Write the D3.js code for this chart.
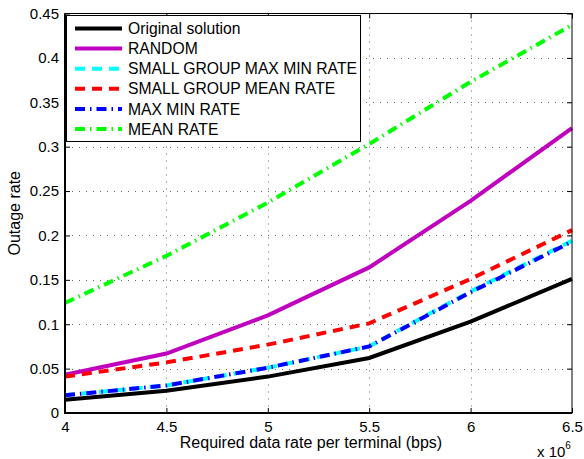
<!DOCTYPE html>
<html>
<head>
<meta charset="utf-8">
<script src="https://cdn.jsdelivr.net/npm/d3@7"></script>
<style>
body { margin: 0; background: #fff; }
text { font-family: "Liberation Sans", Arial, Helvetica, sans-serif; fill: #000; }
</style>
</head>
<body>
<div id="chart"></div>
<script>
// data rate in units of 1e6 bps
var rates = [4, 4.5, 5, 5.5, 6, 6.5];
var xTicks = [4, 4.5, 5, 5.5, 6, 6.5];
var yTicks = [0, 0.05, 0.1, 0.15, 0.2, 0.25, 0.3, 0.35, 0.4, 0.45];

var original = [0.015, 0.025, 0.041, 0.062, 0.103, 0.151];
var random = [0.043, 0.067, 0.110, 0.164, 0.239, 0.321];
var smallMaxMin = [0.020, 0.031, 0.051, 0.075, 0.137, 0.194];
var smallMean = [0.041, 0.057, 0.077, 0.101, 0.151, 0.206];
var maxMin = [0.020, 0.031, 0.051, 0.075, 0.136, 0.193];
var meanRate = [0.124, 0.177, 0.237, 0.303, 0.373, 0.437];

var names = ["Original solution", "RANDOM", "SMALL GROUP MAX MIN RATE",
	"SMALL GROUP MEAN RATE", "MAX MIN RATE", "MEAN RATE"];

var series = [
	{ name: names[0], values: original, color: "#000000", dash: null },
	{ name: names[1], values: random, color: "#bf00bf", dash: null },
	{ name: names[2], values: smallMaxMin, color: "#00ffff", dash: "10,7" },
	{ name: names[3], values: smallMean, color: "#ff0000", dash: "10,7" },
	{ name: names[4], values: maxMin, color: "#0000ff", dash: "10,5,1.5,5" },
	{ name: names[5], values: meanRate, color: "#00ff00", dash: "10,5,1.5,5" }
];

var width = 584, height = 459,
	plotL = 65, plotR = 572, plotT = 13.5, plotB = 413;

var svg = d3.select("#chart").append("svg")
	.attr("width", width)
	.attr("height", height);

var x = d3.scaleLinear().domain([4, 6.5]).range([plotL, plotR]);
var y = d3.scaleLinear().domain([0, 0.45]).range([plotB, plotT]);

// grid, dotted like matlab
var grid = svg.append("g").attr("stroke", "#666").attr("stroke-width", 1)
	.attr("stroke-dasharray", "1,6");
grid.selectAll(".gx").data(xTicks.slice(1, -1)).enter().append("line")
	.attr("x1", function(d){ return Math.round(x(d)) + 0.5; })
	.attr("x2", function(d){ return Math.round(x(d)) + 0.5; })
	.attr("y1", plotT).attr("y2", plotB);
grid.selectAll(".gy").data(yTicks.slice(1, -1)).enter().append("line")
	.attr("y1", function(d){ return Math.round(y(d)) + 0.5; })
	.attr("y2", function(d){ return Math.round(y(d)) + 0.5; })
	.attr("x1", plotL).attr("x2", plotR);

// axes with inward ticks
var xAxis = d3.axisBottom(x).tickValues(xTicks).tickSizeInner(-5).tickSizeOuter(0)
	.tickFormat(d3.format("~g")).tickPadding(8);
var yAxis = d3.axisLeft(y).tickValues(yTicks).tickSizeInner(-5).tickSizeOuter(0)
	.tickFormat(d3.format("~g")).tickPadding(6);

var gx = svg.append("g").attr("transform", "translate(0," + plotB + ")").call(xAxis);
var gy = svg.append("g").attr("transform", "translate(" + plotL + ",0)").call(yAxis);
var gxTop = svg.append("g").attr("transform", "translate(0," + plotT + ")")
	.call(d3.axisTop(x).tickValues(xTicks).tickSizeInner(-5).tickSizeOuter(0).tickFormat(""));
var gyRight = svg.append("g").attr("transform", "translate(" + plotR + ",0)")
	.call(d3.axisRight(y).tickValues(yTicks).tickSizeInner(-5).tickSizeOuter(0).tickFormat(""));

[gx, gy, gxTop, gyRight].forEach(function(g){
	g.select(".domain").remove();
	g.selectAll("line").attr("stroke", "#000");
	g.selectAll("text").style("font-size", "15px").style("font-family", "Liberation Sans, Arial, sans-serif").attr("fill", "#000");
});

// lines
var line = d3.line()
	.x(function(d, i){ return x(rates[i]); })
	.y(function(d){ return y(d); });

svg.append("g").selectAll("path").data(series).enter().append("path")
	.attr("d", function(s){ return line(s.values); })
	.attr("fill", "none")
	.attr("stroke", function(s){ return s.color; })
	.attr("stroke-width", 4)
	.attr("stroke-dasharray", function(s){ return s.dash; });

// box
svg.append("rect")
	.attr("x", plotL).attr("y", plotT)
	.attr("width", plotR - plotL).attr("height", plotB - plotT)
	.attr("fill", "none").attr("stroke", "#000").attr("stroke-width", 1);
svg.append("path")
	.attr("d", "M" + plotL + "," + plotT + "V" + plotB + "H" + plotR)
	.attr("fill", "none").attr("stroke", "#000").attr("stroke-width", 2);

// legend
var legend = svg.append("g");
legend.append("rect")
	.attr("x", 66.5).attr("y", 15.5).attr("width", 294).attr("height", 126)
	.attr("fill", "#fff").attr("stroke", "#000").attr("stroke-width", 1);
var item = legend.selectAll(".item").data(series).enter().append("g")
	.attr("transform", function(d, i){ return "translate(0," + (28.5 + i * 20.1) + ")"; });
item.append("line")
	.attr("x1", 75).attr("x2", 122)
	.attr("stroke", function(s){ return s.color; })
	.attr("stroke-width", 4)
	.attr("stroke-dasharray", function(s){ return s.dash; });
item.append("text")
	.attr("x", 128).attr("dy", "0.36em")
	.style("font-size", "15.7px")
	.text(function(s){ return s.name; });

// labels
svg.append("text")
	.attr("x", 311).attr("y", 447.5)
	.attr("text-anchor", "middle")
	.style("font-size", "16px")
	.text("Required data rate per terminal (bps)");

svg.append("text")
	.attr("transform", "translate(20," + ((plotT + plotB) / 2) + ") rotate(-90)")
	.attr("text-anchor", "middle")
	.style("font-size", "16px")
	.text("Outage rate");

var expo = svg.append("text").attr("x", 537).attr("y", 456.5).style("font-size", "15px");
expo.append("tspan").text("x 10");
expo.append("tspan").attr("dy", -8).style("font-size", "10px").text("6");
</script>
</body>
</html>
